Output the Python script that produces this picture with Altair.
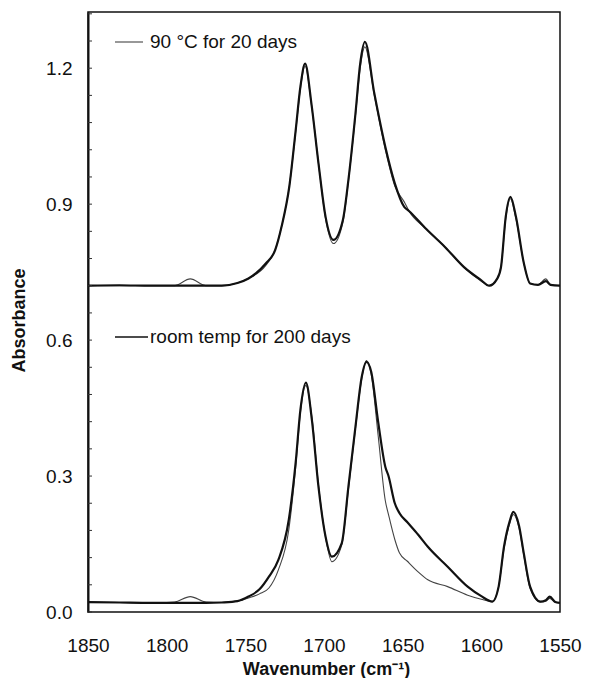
import altair as alt
import pandas as pd

# ---- data ----
wn_upper = [1850, 1830, 1810, 1795, 1785, 1775, 1765, 1755, 1748, 1737, 1731, 1727, 1722, 1718, 1715,
            1712, 1708, 1703.5, 1699, 1694, 1688, 1684.5, 1680, 1677, 1674, 1668, 1661, 1655, 1649,
            1646, 1635, 1623, 1611, 1600, 1595, 1590, 1587.5, 1584.5, 1581.5, 1578, 1573, 1569,
            1564, 1559, 1556, 1550]
upper_thick = [0.720, 0.721, 0.720, 0.720, 0.720, 0.720, 0.720, 0.726, 0.736, 0.769, 0.799, 0.850, 0.940,
               1.063, 1.159, 1.210, 1.122, 0.990, 0.872, 0.821, 0.865, 0.953, 1.100, 1.210, 1.258,
               1.144, 1.026, 0.946, 0.894, 0.885, 0.845, 0.805, 0.761, 0.732, 0.720, 0.735, 0.761,
               0.872, 0.916, 0.872, 0.770, 0.725, 0.722, 0.730, 0.722, 0.720]
upper_thin = [0.720, 0.720, 0.720, 0.720, 0.735, 0.720, 0.720, 0.726, 0.736, 0.765, 0.800, 0.850, 0.940,
              1.060, 1.155, 1.205, 1.120, 0.990, 0.868, 0.813, 0.860, 0.950, 1.095, 1.200, 1.247,
              1.140, 1.020, 0.940, 0.905, 0.885, 0.845, 0.805, 0.760, 0.730, 0.720, 0.735, 0.761,
              0.868, 0.912, 0.868, 0.770, 0.725, 0.722, 0.735, 0.722, 0.720]

wn_lower = [1850, 1830, 1810, 1795, 1785, 1775, 1765, 1755, 1748, 1741, 1735, 1729, 1722.4, 1718, 1715,
            1711.5, 1707.7, 1703.5, 1699, 1695, 1688.7, 1684.5, 1680, 1676, 1673, 1670, 1665.6, 1661,
            1659, 1655, 1652, 1647, 1640, 1634, 1621.4, 1608.7, 1600, 1593, 1589, 1585.6, 1582,
            1579.7, 1576, 1573, 1569, 1562.4, 1559, 1556.5, 1553, 1550]
lower_thick = [0.022, 0.021, 0.020, 0.020, 0.020, 0.020, 0.021, 0.024, 0.034, 0.050, 0.078, 0.115, 0.203,
               0.330, 0.446, 0.506, 0.424, 0.276, 0.166, 0.122, 0.152, 0.276, 0.409, 0.519, 0.552,
               0.530, 0.420, 0.320, 0.300, 0.240, 0.218, 0.198, 0.170, 0.144, 0.100, 0.056, 0.035,
               0.023, 0.056, 0.144, 0.200, 0.221, 0.190, 0.129, 0.056, 0.023, 0.026, 0.034, 0.022, 0.020]
lower_thin = [0.022, 0.021, 0.020, 0.022, 0.034, 0.022, 0.021, 0.024, 0.031, 0.040, 0.053, 0.093, 0.181,
              0.320, 0.440, 0.500, 0.430, 0.280, 0.165, 0.111, 0.148, 0.270, 0.405, 0.515, 0.555,
              0.525, 0.390, 0.245, 0.215, 0.160, 0.130, 0.112, 0.088, 0.071, 0.056, 0.037, 0.028,
              0.023, 0.056, 0.140, 0.195, 0.215, 0.185, 0.125, 0.052, 0.022, 0.024, 0.030, 0.021, 0.020]

y_labels = [0.0, 0.3, 0.6, 0.9, 1.2]
y_minor = [round(i * 0.06, 2) for i in range(0, 23)]
x_labels = [1850, 1800, 1750, 1700, 1650, 1600, 1550]

legend_upper = "90 °C for 20 days"
legend_lower = "room temp for 200 days"

rows = []
for w, a in zip(wn_upper, upper_thick):
    rows.append({"wn": w, "abs": a, "curve": "upper", "kind": "thick"})
for w, a in zip(wn_upper, upper_thin):
    rows.append({"wn": w, "abs": a, "curve": "upper", "kind": "thin"})
for w, a in zip(wn_lower, lower_thick):
    rows.append({"wn": w, "abs": a, "curve": "lower", "kind": "thick"})
for w, a in zip(wn_lower, lower_thin):
    rows.append({"wn": w, "abs": a, "curve": "lower", "kind": "thin"})
df = pd.DataFrame(rows)

W, H = 472, 600
xs = alt.Scale(domain=[1550, 1850], reverse=True, nice=False, zero=False)
ys = alt.Scale(domain=[0, 1.324], nice=False, zero=False)

FONT = "Liberation Sans"

x_enc = alt.X("wn:Q", scale=xs,
              axis=alt.Axis(values=x_labels, format="d", labelFlush=False, labelOverlap=False,
                            labelBound=False,
                            title="Wavenumber (cm⁻¹)", grid=False,
                            ticks=False, domain=False, labelFontSize=19, labelPadding=24,
                            labelColor="#111", labelFont=FONT, titleFont=FONT,
                            titleFontSize=18, titleFontWeight="bold", titleColor="#111",
                            titleX=238, titleY=62, titleBaseline="alphabetic"))
y_enc = alt.Y("abs:Q", scale=ys,
              axis=alt.Axis(values=y_labels, format=".1f", labelFlush=False, labelOverlap=False,
                            title="Absorbance", grid=False,
                            ticks=False, domainWidth=2, domainColor="#111",
                            labelFontSize=19, labelPadding=16, labelColor="#111", labelFont=FONT,
                            titleFont=FONT, titleFontSize=18, titleFontWeight="bold",
                            titleColor="#111", titleX=-69, titleY=308, titleBaseline="middle",
                            titleAngle=-90, titleAlign="center"))

base = alt.Chart(df)
thin = base.transform_filter(alt.datum.kind == "thin").mark_line(
    color="#444", strokeWidth=1.1, interpolate="monotone").encode(
    x=x_enc, y=y_enc, detail="curve:N", order="wn:Q")
thick = base.transform_filter(alt.datum.kind == "thick").mark_line(
    color="#111", strokeWidth=2.2, interpolate="monotone").encode(
    x="wn:Q", y="abs:Q", detail="curve:N", order="wn:Q")

ticks = alt.Chart(pd.DataFrame({"t": y_minor})).mark_rule(color="#333", strokeWidth=1).encode(
    y=alt.Y("t:Q", scale=ys), x=alt.value(0), x2=alt.value(4))

leg_df = pd.DataFrame({"label": [legend_upper, legend_lower],
                       "ty": [30, 325], "kind": ["thin", "thick"]})
leg_line_thin = alt.Chart(leg_df).transform_filter(alt.datum.kind == "thin").mark_rule(
    color="#444", strokeWidth=1.1).encode(x=alt.value(27), x2=alt.value(55), y=alt.value(30))
leg_line_thick = alt.Chart(leg_df).transform_filter(alt.datum.kind == "thick").mark_rule(
    color="#111", strokeWidth=1.6).encode(x=alt.value(27), x2=alt.value(60), y=alt.value(325))
leg_text = alt.Chart(leg_df).mark_text(align="left", baseline="middle", fontSize=19,
                                       font=FONT, color="#111").encode(
    x=alt.value(62), y=alt.Y("ty:Q", scale=None), text="label:N")

chart = alt.layer(thin, thick, ticks, leg_line_thin, leg_line_thick, leg_text).properties(
    width=W, height=H,
    autosize=alt.AutoSizeParams(type="none"),
    padding={"left": 80, "top": 4, "right": 22, "bottom": 66},
    background="white",
).configure_view(stroke="#111", strokeWidth=1.5)

chart.save("out.html", embed_options={"renderer": "svg", "actions": False})
